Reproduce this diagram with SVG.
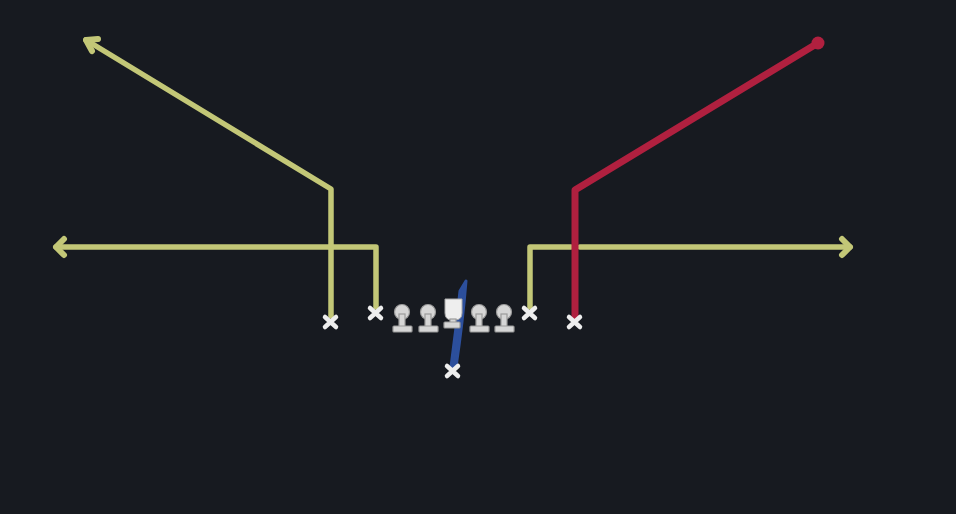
<svg xmlns="http://www.w3.org/2000/svg" width="956" height="514" viewBox="0 0 956 514">
<style>
.y{fill:none;stroke:#c3c777;stroke-width:5.5;stroke-linejoin:round;stroke-linecap:round}
.ah{fill:none;stroke:#c3c777;stroke-width:6;stroke-linejoin:round;stroke-linecap:round}
.r{fill:none;stroke:#b0203f;stroke-width:7;stroke-linejoin:round;stroke-linecap:round}
.x{stroke:#eeeeee;stroke-width:4.5;stroke-linecap:round}
.lm{fill:#d6d6d6;stroke:#9a9a9a;stroke-width:1.2}
</style>
<rect width="956" height="514" fill="#171a20"/>
<g id="connectors">
<polyline class="y" points="331,316 331,189 86,40"/>
<polyline class="ah" points="98,39 86,40 92,51"/>
<polyline class="y" points="376,307 376,247 56,247"/>
<polyline class="ah" points="64,239 56,247 64,255"/>
<polyline class="y" points="530,307 530,247 571,247"/>
<polyline class="y" points="580,247 850,247"/>
<polyline class="ah" points="842,239 850,247 842,255"/>
<polyline class="r" points="575,316 575,190 818,43"/>
<circle cx="818" cy="43" r="6.5" fill="#b0203f"/>
<path d="M451,367 Q456,330 460,291 L466,281 Q463,320 456,367 Z" fill="#2c4f9c" stroke="#2c4f9c" stroke-width="3" stroke-linejoin="round"/>
</g>
<g id="rec-left-outer"><path class="x" d="M325,317 l11,10 M336,317 l-11,10"/></g>
<g id="rec-left-inner"><path class="x" d="M370,308 l11,10 M381,308 l-11,10"/></g>
<g id="rec-right-inner"><path class="x" d="M524,308 l11,10 M535,308 l-11,10"/></g>
<g id="rec-right-outer"><path class="x" d="M569,317 l11,10 M580,317 l-11,10"/></g>
<g id="qb"><path class="x" d="M447,366 l11,10 M458,366 l-11,10"/></g>
<g id="lineman-1"><circle class="lm" cx="402" cy="312" r="7.5"/><rect class="lm" x="399" y="314" width="6" height="13"/><rect class="lm" x="393" y="326" width="19" height="6" rx="1"/></g>
<g id="lineman-2"><circle class="lm" cx="428" cy="312" r="7.5"/><rect class="lm" x="425" y="314" width="6" height="13"/><rect class="lm" x="419" y="326" width="19" height="6" rx="1"/></g>
<g id="center"><path d="M445,299 L462,299 L462,313 Q462,320 455,320 L452,320 Q445,320 445,313 Z" fill="#eeeeee" stroke="#aaaaaa" stroke-width="1"/><rect class="lm" x="450" y="319" width="6" height="4"/><rect class="lm" x="444" y="322" width="16" height="6" rx="1"/></g>
<g id="lineman-4"><circle class="lm" cx="479" cy="312" r="7.5"/><rect class="lm" x="476" y="314" width="6" height="13"/><rect class="lm" x="470" y="326" width="19" height="6" rx="1"/></g>
<g id="lineman-5"><circle class="lm" cx="504" cy="312" r="7.5"/><rect class="lm" x="501" y="314" width="6" height="13"/><rect class="lm" x="495" y="326" width="19" height="6" rx="1"/></g>
</svg>
